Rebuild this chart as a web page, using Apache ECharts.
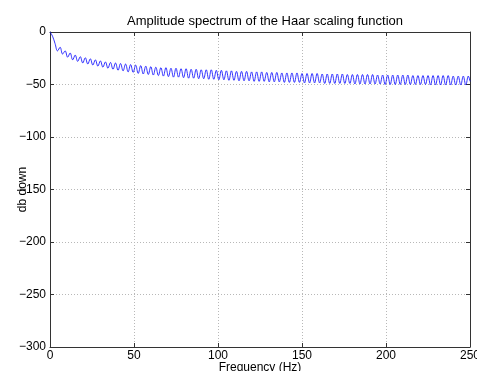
<!DOCTYPE html>
<html>
<head>
<meta charset="utf-8">
<script src="https://cdn.jsdelivr.net/npm/echarts@6/dist/echarts.min.js"></script>
<style>
html,body{margin:0;padding:0;background:#fff;}
#c{width:477px;height:371px;}
</style>
</head>
<body>
<div id="c"></div>
<script>
var titleText = 'Amplitude spectrum of the Haar scaling function';
var xName = 'Frequency (Hz)';
var yName = 'db down';
var xTicks = [0, 50, 100, 150, 200, 250];
var yTicks = [-300, -250, -200, -150, -100, -50, 0];

var freqs = [
  0,1.5,3,4.5,6,7.5,9,10.5,12,13.5,
  15,16.5,18,19.5,21,22.5,24,25.5,27,28.5,
  30,31.5,33,34.5,36,37.5,39,40.5,42,43.5,
  45,46.5,48,49.5,51,52.5,54,55.5,57,58.5,
  60,61.5,63,64.5,66,67.5,69,70.5,72,73.5,
  75,76.5,78,79.5,81,82.5,84,85.5,87,88.5,
  90,91.5,93,94.5,96,97.5,99,100.5,102,103.5,
  105,106.5,108,109.5,111,112.5,114,115.5,117,118.5,
  120,121.5,123,124.5,126,127.5,129,130.5,132,133.5,
  135,136.5,138,139.5,141,142.5,144,145.5,147,148.5,
  150,151.5,153,154.5,156,157.5,159,160.5,162,163.5,
  165,166.5,168,169.5,171,172.5,174,175.5,177,178.5,
  180,181.5,183,184.5,186,187.5,189,190.5,192,193.5,
  195,196.5,198,199.5,201,202.5,204,205.5,207,208.5,
  210,211.5,213,214.5,216,217.5,219,220.5,222,223.5,
  225,226.5,228,229.5,231,232.5,234,235.5,237,238.5,
  240,241.5,243,244.5,246,247.5,249,250
];

var dbValues = [
  0,-4,-11,-18,-14.5,-21,-18,-24,-20,-26.5,
  -22,-28,-23.5,-29.5,-24.5,-30.5,-25.5,-31.5,-26.5,-32.5,
  -27.5,-33.5,-28.5,-34.5,-29,-35.5,-29.5,-36.5,-30,-37,
  -30.5,-38,-31,-38.5,-31.5,-39.5,-32,-40,-32.5,-40.5,
  -33,-41,-33.5,-41.5,-34,-42,-34,-42.5,-34.5,-43,
  -34.5,-43,-35,-43.5,-35,-44,-35.5,-44,-35.5,-44.5,
  -36,-44.5,-36,-45,-36,-45,-36.5,-45.5,-36.5,-45.5,
  -37,-46,-37,-46,-37.5,-46.5,-37.5,-46.5,-37.5,-46.5,
  -38,-47,-38,-47,-38,-47,-38.5,-47.5,-38.5,-47.5,
  -38.5,-47.5,-39,-48,-39,-48,-39,-48,-39,-48,
  -39.5,-48.5,-39.5,-48.5,-39.5,-48.5,-39.5,-48.5,-40,-49,
  -40,-49,-40,-49,-40,-49,-40,-49,-40.5,-49,
  -40.5,-49.5,-40.5,-49.5,-40.5,-49.5,-40.5,-49.5,-40.5,-49.5,
  -41,-49.5,-41,-50,-41,-50,-41,-50,-41,-50,
  -41,-50,-41,-50,-41.5,-50,-41.5,-50,-41.5,-50,
  -41.5,-50.5,-41.5,-50.5,-41.5,-50.5,-41.5,-50.5,-41.5,-50.5,
  -42,-50.5,-42,-50.5,-42,-50.5,-42,-47
];

var seriesData = freqs.map(function (f, i) { return [f, dbValues[i]]; });

var FONT = 'Liberation Sans, Arial, Helvetica, sans-serif';
var axisColor = '#333';
function fmtNum(v) { return String(v).replace('-', '\u2212'); }

var chart = echarts.init(document.getElementById('c'), null, {renderer: 'canvas'});
chart.setOption({
  animation: false,
  backgroundColor: '#fff',
  title: {
    text: titleText,
    left: 260,
    top: 10,
    textAlign: 'center',
    textStyle: {fontFamily: FONT, fontSize: 13, fontWeight: 'normal', color: '#000'}
  },
  grid: {left: 50, right: 7, top: 32, bottom: 24, containLabel: false, outerBoundsMode: 'none'},
  xAxis: [{
    type: 'value',
    min: xTicks[0], max: xTicks[xTicks.length - 1], interval: 50,
    name: xName, nameLocation: 'middle', nameGap: 15, nameMoveOverlap: false,
    nameTextStyle: {fontFamily: FONT, fontSize: 12, color: '#000'},
    axisLine: {show: true, onZero: false, lineStyle: {color: axisColor, width: 1}},
    axisTick: {show: true, inside: true, length: 4, lineStyle: {color: axisColor}},
    axisLabel: {fontFamily: FONT, fontSize: 12, color: '#000', margin: 3, formatter: fmtNum, showMaxLabel: true, showMinLabel: true},
    splitLine: {show: true, lineStyle: {color: '#b8b8b8', type: [1, 2], width: 1}}
  }, {
    type: 'value', position: 'top',
    min: xTicks[0], max: xTicks[xTicks.length - 1], interval: 50,
    axisLine: {show: true, onZero: false, lineStyle: {color: axisColor, width: 1}},
    axisTick: {show: true, inside: true, length: 4, lineStyle: {color: axisColor}},
    axisLabel: {show: false},
    splitLine: {show: false}
  }],
  yAxis: [{
    type: 'value',
    min: yTicks[0], max: yTicks[yTicks.length - 1], interval: 50,
    name: yName, nameLocation: 'middle', nameGap: 21, nameRotate: 90, nameMoveOverlap: false,
    nameTextStyle: {fontFamily: FONT, fontSize: 12, color: '#000'},
    axisLine: {show: true, onZero: false, lineStyle: {color: axisColor, width: 1}},
    axisTick: {show: true, inside: true, length: 4, lineStyle: {color: axisColor}},
    axisLabel: {fontFamily: FONT, fontSize: 12, color: '#000', margin: 4, formatter: fmtNum},
    splitLine: {show: true, lineStyle: {color: '#b8b8b8', type: [1, 2], width: 1}}
  }, {
    type: 'value', position: 'right',
    min: yTicks[0], max: yTicks[yTicks.length - 1], interval: 50,
    axisLine: {show: true, onZero: false, lineStyle: {color: axisColor, width: 1}},
    axisTick: {show: true, inside: true, length: 4, lineStyle: {color: axisColor}},
    axisLabel: {show: false},
    splitLine: {show: false}
  }],
  series: [{
    type: 'line',
    data: seriesData,
    xAxisIndex: 0, yAxisIndex: 0,
    showSymbol: false,
    smooth: 0.4,
    lineStyle: {color: '#0000ff', width: 0.8},
    clip: true
  }]
});
</script>
</body>
</html>
